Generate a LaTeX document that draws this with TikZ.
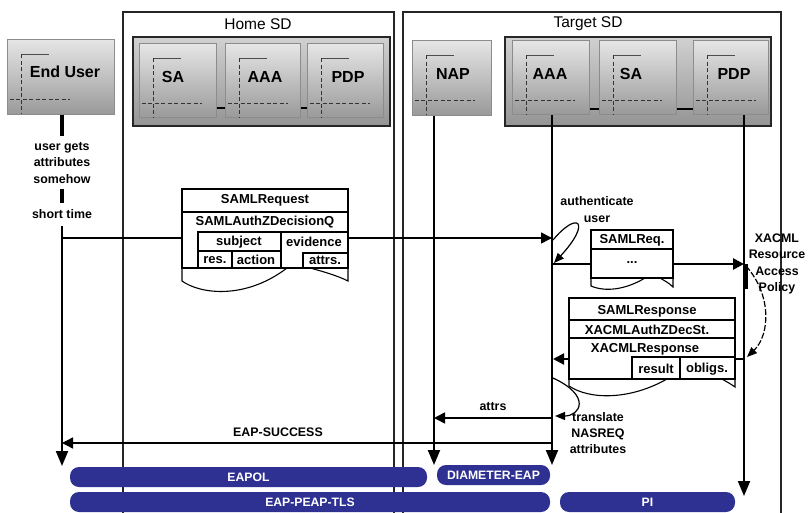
\documentclass[tikz,border=0pt]{standalone}
\usepackage{fontspec}
\setmainfont{Liberation Sans}
\usetikzlibrary{arrows.meta,fit}
\definecolor{barblue}{RGB}{46,49,146}

\tikzset{
  frame/.style={line width=1.5pt, black!85},
  unit/.style={draw=black!45, line width=1pt, top color=black!10, bottom color=black!40, inner sep=0pt},
  group/.style={draw=black!85, line width=2.4pt, top color=black!18, bottom color=black!42, inner sep=0pt},
  ulabel/.style={font=\fontsize{16}{18}\selectfont\bfseries, inner sep=0pt},
  note/.style={font=\fontsize{12.4}{16.5}\selectfont\bfseries, inner sep=0pt, align=center},
  cell/.style={font=\fontsize{13}{15}\selectfont\bfseries, inner sep=0pt},
  title/.style={font=\fontsize{15.5}{18}\selectfont, inner sep=0pt},
  bar/.style={fill=barblue, rounded corners=9pt, inner sep=0pt},
  bartext/.style={text=white, font=\fontsize{12.2}{14}\selectfont\bfseries, inner sep=0pt},
  msgbox/.style={draw, fill=white, line width=1.1pt, inner sep=0pt},
  life/.style={line width=2pt, -{Triangle[length=15pt,width=12pt]}},
  msg/.style={line width=1.6pt, -{Triangle[length=11pt,width=11pt]}},
  loop/.style={line width=1.2pt, -{Triangle[length=10pt,width=8pt]}},
  lmark/.pic={
    \draw[black!80, line width=1pt, dash pattern=on 4pt off 2.5pt] (15,15) -- (15,75);
    \draw[black!70, line width=0.8pt] (15,15) -- (42,15);
    \draw[black!80, line width=1pt, dash pattern=on 4pt off 2.5pt] (3,60) -- (63,60);
  }
}

\begin{document}
\begin{tikzpicture}[x=1pt,y=-1pt]
\useasboundingbox (0,0) rectangle (808,513);

% security domains
\draw[frame] (123,513) -- (123,12) -- (394,12) -- (394,513);
\draw[frame] (403,513) -- (403,12) -- (781,12) -- (781,513);
\node[title] (home) at (258,24) {Home SD};
\node[title] (target) at (588,24) {Target SD};

% end user
\node[unit, fit={(7,40) (114,115)}] (eu) {};
\pic at (eu.north west) {lmark};
\node[ulabel] (eulab) at (65,72) {End User};

% home domain components
\node[group, fit={(133,37) (390,126)}] (hgrp) {};
\node[unit, fit={(139,44) (216,118)}] (hsa) {};
\node[unit, fit={(225,44) (300,118)}] (haaa) {};
\node[unit, fit={(307,44) (383,118)}] (hpdp) {};
\foreach \b in {hsa,haaa,hpdp} \pic at (\b.north west) {lmark};
\node[ulabel] (hsalab) at (173,77) {SA};
\node[ulabel] (haaalab) at (265,77) {AAA};
\node[ulabel] (hpdplab) at (348,77) {PDP};
\draw[line width=2pt] ([yshift=10pt]hsa.south east) -- ([yshift=10pt]haaa.south west);
\draw[line width=2pt] ([yshift=10pt]haaa.south east) -- ([yshift=10pt]hpdp.south west);

% target domain components
\node[unit, fit={(412,41) (491,116)}] (nap) {};
\node[group, fit={(505,37) (771,126)}] (tgrp) {};
\node[unit, fit={(512,41) (589,115)}] (taaa) {};
\node[unit, fit={(599,41) (676,115)}] (tsa) {};
\node[unit, fit={(693,41) (768,115)}] (tpdp) {};
\foreach \b in {nap,taaa,tsa,tpdp} \pic at (\b.north west) {lmark};
\node[ulabel] (naplab) at (453,74) {NAP};
\node[ulabel] (taaalab) at (550,74) {AAA};
\node[ulabel] (tsalab) at (631,74) {SA};
\node[ulabel] (tpdplab) at (734,74) {PDP};
\draw[line width=2pt] ([yshift=6pt]taaa.south east) -- ([yshift=6pt]tsa.south west);
\draw[line width=2pt] ([yshift=6pt]tsa.south east) -- ([yshift=6pt]tpdp.south west);

% lifeline points
\coordinate (euTopA) at (62,115);  \coordinate (euTopB) at (62,136);
\coordinate (euMidA) at (62,189);  \coordinate (euMidB) at (62,203);
\coordinate (euLowA) at (62,226);  \coordinate (euEnd) at (62,466);
\coordinate (napTop) at (434,116); \coordinate (napEnd) at (434,465);
\coordinate (aaaTop) at (552,115); \coordinate (aaaEnd) at (552,465);
\coordinate (pdpTop) at (744,115); \coordinate (pdpEnd) at (744,496);

% lifelines (the end user's is broken by the notes)
\draw[line width=3.5pt] (euTopA) -- (euTopB) (euMidA) -- (euMidB);
\draw[life] (euLowA) -- (euEnd);
\draw[life] (napTop) -- (napEnd);
\draw[life] (aaaTop) -- (aaaEnd);
\draw[life] (pdpTop) -- (pdpEnd);
\node[note] (gets) at (62,163) {user gets\\attributes\\somehow};
\node[note] (short) at (62,214) {short time};

% message end points
\coordinate (m1s) at (63,238);  \coordinate (m1e) at (552,238);
\coordinate (m2s) at (553,264); \coordinate (m2e) at (744,264);
\coordinate (m3s) at (744,359); \coordinate (m3e) at (553,359);
\coordinate (m4s) at (552,418); \coordinate (m4e) at (434,418);
\coordinate (m5s) at (552,443); \coordinate (m5e) at (62,443);

% messages
\draw[msg, line width=1.5pt] (m1s) -- (m1e);
\draw[msg, line width=2.6pt] (m2s) -- (m2e);
\draw[line width=4pt] (745.5,264) -- (745.5,289);
\draw[msg, line width=2pt] (m3s) -- (m3e);
\draw[msg] (m4s) -- (m4e);
\draw[msg, line width=1.4pt] (m5s) -- (m5e);
\node[note] (attrs) at (493,407) {attrs};
\node[note] (succ) at (278,432) {EAP-SUCCESS};

% self calls
\coordinate (l1s) at (553,240); \coordinate (l1e) at (554,263);
\draw[loop] (l1s) .. controls (578,210) and (592,222) .. (l1e);
\node[note, font=\fontsize{12.4}{17}\selectfont\bfseries] (auth) at (597,210) {authenticate\\user};
\coordinate (l2s) at (746,266); \coordinate (l2e) at (747,357);
\draw[loop, dash pattern=on 6pt off 2pt] (l2s) .. controls (772,295) and (770,335) .. (l2e);
\node[note] (xacml) at (777,264) {XACML\\Resource\\Access\\Policy};
\coordinate (l3s) at (553,378); \coordinate (l3e) at (555,416);
\draw[loop] (l3s) .. controls (592,396) and (580,416) .. (l3e);
\node[note, font=\fontsize{12.4}{15.8}\selectfont\bfseries] (transl) at (598,433) {translate\\NASREQ\\attributes};

% SAMLRequest message
\filldraw[fill=white, line width=1.1pt] (182,268) -- (182,281) .. controls (200,294) and (245,300) .. (287,268) -- cycle;
\filldraw[fill=white, line width=1.1pt] (310,268) .. controls (325,272) and (338,276) .. (348,281) -- (348,268) -- cycle;
\node[msgbox, fit={(182,189) (348,268)}] (req) {};
\draw[line width=1.1pt] (182,212) -- (348,212);
\draw[line width=1.1pt] (198,268) -- (198,232) -- (348,232);
\draw[line width=1.1pt] (281,232) -- (281,268);
\draw[line width=1.1pt] (198,251) -- (281,251);
\draw[line width=1.1pt] (232,251) -- (232,268);
\draw[line width=1.1pt] (303,268) -- (303,253) -- (348,253);
\node[cell] at (265,200) {SAMLRequest};
\node[cell] at (265,222) {SAMLAuthZDecisionQ};
\node[cell] at (239,242) {subject};
\node[cell] at (314,242) {evidence};
\node[cell] at (215,260) {res.};
\node[cell] at (256,260) {action};
\node[cell] at (325,260) {attrs.};

% SAMLReq. message
\filldraw[fill=white, line width=1.1pt] (591,278) -- (591,286) .. controls (605,292) and (625,290) .. (645,278) -- cycle;
\filldraw[fill=white, line width=1.1pt] (660,278) .. controls (665,281) and (669,283) .. (673,287) -- (673,278) -- cycle;
\node[msgbox, fit={(591,230) (673,278)}] (sreq) {};
\draw[line width=1.1pt] (591,249) -- (673,249);
\node[cell] at (632,240) {SAMLReq.};
\node[cell] at (632,263) {...};

% SAMLResponse message
\filldraw[fill=white, line width=1.1pt] (569,379) -- (569,386) .. controls (590,400) and (630,400) .. (667,379) -- cycle;
\filldraw[fill=white, line width=1.1pt] (722,379) .. controls (727,382) and (731,384) .. (735,387) -- (735,379) -- cycle;
\node[msgbox, fit={(569,298) (735,379)}] (resp) {};
\draw[line width=1.1pt] (569,320) -- (735,320);
\draw[line width=1.1pt] (569,338) -- (735,338);
\draw[line width=1.1pt] (632,379) -- (632,357) -- (735,357);
\draw[line width=1.1pt] (680,357) -- (680,379);
\node[cell] at (647,311) {SAMLResponse};
\node[cell] at (647,330) {XACMLAuthZDecSt.};
\node[cell] at (645,349) {XACMLResponse};
\node[cell] at (656,369) {result};
\node[cell] at (707,369) {obligs.};

% protocol bars
\node[bar, fit={(70,467) (427,487)}] (eapol) {};
\node[bartext] at (eapol) {EAPOL};
\node[bar, fit={(437,465) (550,485)}] (diam) {};
\node[bartext] at (diam) {DIAMETER-EAP};
\node[bar, fit={(70,492) (550,512)}] (peap) {};
\node[bartext] at (peap) {EAP-PEAP-TLS};
\node[bar, fit={(560,492) (735,512)}] (pi) {};
\node[bartext] at (pi) {PI};
\end{tikzpicture}
\end{document}
